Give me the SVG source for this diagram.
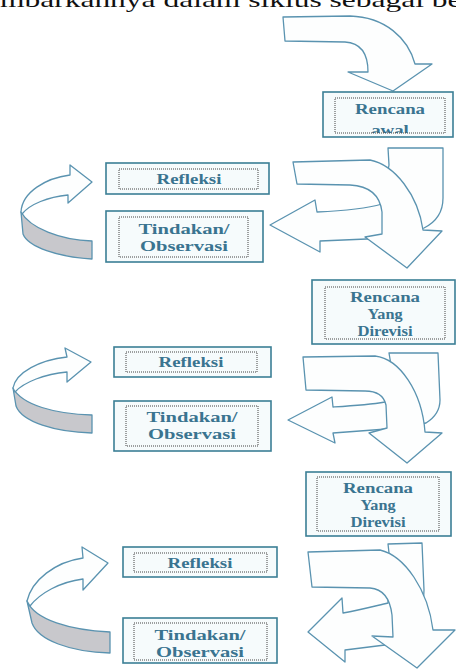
<svg xmlns="http://www.w3.org/2000/svg" width="456" height="669" viewBox="0 0 456 669">
  <style>
    .page { fill: #ffffff; }
    .head { font-family: "Liberation Serif", "Times New Roman", serif; font-size: 21px; fill: #111; }
    .box { fill: #f6fbfc; stroke: #3b7f95; stroke-width: 1.6; }
    .dots { fill: none; stroke: #444; stroke-width: 1; stroke-dasharray: 1 1; }
    .lbl { font-family: "Liberation Serif", "Times New Roman", serif; font-weight: bold; font-size: 14.5px; fill: #3a7490; text-anchor: middle; }
    .arw { fill: #fdfefe; stroke: #5a93b0; stroke-width: 1.3; stroke-linejoin: round; }
    .rib { fill: #c8c8cc; stroke: #5a93b0; stroke-width: 1.3; stroke-linejoin: round; }
  </style>
  <defs>
    <!-- the first plan's text frame crops its overflowing second line -->
    <clipPath id="awal-frame">
      <rect x="335" y="98" width="110" height="35"/>
    </clipPath>
  </defs>

  <rect class="page" x="0" y="0" width="456" height="669"/>

  <!-- running text line, cut by the top edge -->
  <text class="head" transform="translate(0,7) scale(1.5,1)">mbarkannya dalam siklus sebagai be</text>

  <g id="connectors">
    <!-- entry arrow into the first plan -->
    <path class="arw" d="M283,17 L350,16 C385,17 408,38 415,64 L432,64 L393,91 L348,72 L368,72 C368,55 362,43 345,42 L285,41 Z"/>

    <!-- cycle 1: U-turn arrow back to action, curved arrow on to revised plan -->
    <path class="arw" d="M388,148 L443,148 L443,198 C443,212 436,222 424,228 L390,238 L320,241 L320,252 L270,225 L315,200 L317,212 C340,211 365,209 382,204 L389,165 Z"/>
    <path class="arw" d="M293,162 L370,160 C395,165 418,195 423,230 L442,231 L407,268 L365,237 L382,234 L382,212 C380,195 370,186 350,185 L297,184 Z"/>
    <!-- cycle 1: ribbon arrow from action up to reflection -->
    <path class="rib" d="M21,212 C30,228 60,240 92,241 L92,259 C58,257 28,247 23,234 Z"/>
    <path class="arw" d="M70,175 L70,165 L92,182 L68,203 L68,195 C48,197 30,204 22,214 L21,212 C22,192 46,178 70,175 Z"/>

    <!-- cycle 2 -->
    <path class="arw" d="M389,353 L438,353 L440,400 C440,410 434,418 426,423 L400,428 L333,433 L335,443 L288,420 L332,397 L333,407 C350,406 368,405 385,402 L391,365 Z"/>
    <path class="arw" d="M303,357 L375,356 C400,359 422,392 425,432 L442,433 L407,463 L369,433 L387,428 L386,405 C384,396 378,391 365,391 L306,390 Z"/>
    <path class="rib" d="M13,388 C22,405 55,414 92,415 L92,433 C55,432 22,422 16,406 Z"/>
    <path class="arw" d="M67,357 L65,348 L91,362 L67,382 L67,372 C45,374 24,382 15,392 L13,388 C16,372 40,360 67,357 Z"/>

    <!-- cycle 3 -->
    <path class="arw" d="M388,544 L422,543 L424,590 C424,605 418,615 410,622 L385,645 L345,650 L345,662 L308,632 L342,598 L343,613 C360,610 375,606 388,603 L389,553 Z"/>
    <path class="arw" d="M308,552 L380,550 C405,556 428,590 433,630 L455,630 L417,668 L372,636 L393,637 L392,615 C390,598 383,589 370,588 L312,587 Z"/>
    <path class="rib" d="M27,601 C35,620 70,630 110,632 L110,653 C70,652 38,640 32,623 Z"/>
    <path class="arw" d="M83,558 L82,547 L108,563 L83,590 L83,579 C60,582 40,593 30,606 L27,601 C32,580 55,562 83,558 Z"/>
  </g>

  <g id="rencana-awal">
    <rect class="box" x="323" y="92" width="130" height="45"/>
    <text class="lbl" transform="translate(390,113.5) scale(1.3,1)">Rencana</text>
    <g clip-path="url(#awal-frame)">
      <text class="lbl" transform="translate(390,135) scale(1.3,1)">awal</text>
    </g>
    <rect class="dots" x="335" y="98" width="110" height="35"/>
  </g>

  <g id="refleksi-1">
    <rect class="box" x="106" y="163" width="163" height="31"/>
    <rect class="dots" x="119" y="169" width="139" height="20"/>
    <text class="lbl" transform="translate(189,184) scale(1.3,1)">Refleksi</text>
  </g>

  <g id="tindakan-1">
    <rect class="box" x="106" y="211" width="157" height="51"/>
    <rect class="dots" x="119" y="217" width="129" height="40"/>
    <text class="lbl" transform="translate(184,234) scale(1.42,1)">Tindakan/</text>
    <text class="lbl" transform="translate(184,251) scale(1.42,1)">Observasi</text>
  </g>

  <g id="rencana-revisi-1">
    <rect class="box" x="312" y="280" width="143" height="64"/>
    <rect class="dots" x="325" y="287" width="120" height="52"/>
    <text class="lbl" transform="translate(385,302) scale(1.3,1)">Rencana</text>
    <text class="lbl" transform="translate(385,318.5) scale(1.12,1)">Yang</text>
    <text class="lbl" transform="translate(385,335.5) scale(1.15,1)">Direvisi</text>
  </g>

  <g id="refleksi-2">
    <rect class="box" x="114" y="347" width="157" height="30"/>
    <rect class="dots" x="126" y="352" width="131" height="20"/>
    <text class="lbl" transform="translate(191,367) scale(1.3,1)">Refleksi</text>
  </g>

  <g id="tindakan-2">
    <rect class="box" x="114" y="401" width="157" height="50"/>
    <rect class="dots" x="126" y="406" width="132" height="40"/>
    <text class="lbl" transform="translate(192,421.5) scale(1.42,1)">Tindakan/</text>
    <text class="lbl" transform="translate(192,438.5) scale(1.42,1)">Observasi</text>
  </g>

  <g id="rencana-revisi-2">
    <rect class="box" x="306" y="472" width="145" height="64"/>
    <rect class="dots" x="317" y="477" width="122" height="54"/>
    <text class="lbl" transform="translate(378,492.5) scale(1.3,1)">Rencana</text>
    <text class="lbl" transform="translate(378,509.5) scale(1.12,1)">Yang</text>
    <text class="lbl" transform="translate(378,527) scale(1.15,1)">Direvisi</text>
  </g>

  <g id="refleksi-3">
    <rect class="box" x="123" y="547" width="154" height="30"/>
    <rect class="dots" x="134" y="553" width="133" height="19"/>
    <text class="lbl" transform="translate(200,568) scale(1.3,1)">Refleksi</text>
  </g>

  <g id="tindakan-3">
    <rect class="box" x="123" y="618" width="154" height="45"/>
    <rect class="dots" x="134" y="623" width="133" height="37"/>
    <text class="lbl" transform="translate(200,640) scale(1.42,1)">Tindakan/</text>
    <text class="lbl" transform="translate(200,657) scale(1.42,1)">Observasi</text>
  </g>
</svg>
